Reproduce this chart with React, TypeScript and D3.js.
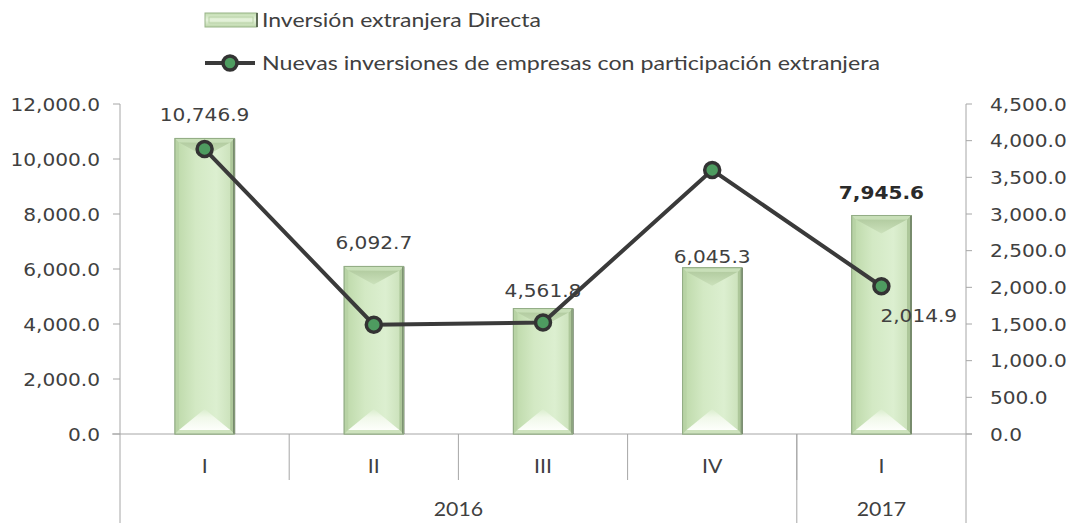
import React from "react";
import * as d3 from "d3";

const quarters = ["I", "II", "III", "IV", "I"];
const years = ["2016", "2017"];
const yearSpans = [4, 1];
const ied = [10746.9, 6092.7, 4561.8, 6045.3, 7945.6];
const nuevas = [3886, 1490, 1520, 3600, 2014.9];
const leftTicks = [0, 2000, 4000, 6000, 8000, 10000, 12000];
const rightTicks = [0, 500, 1000, 1500, 2000, 2500, 3000, 3500, 4000, 4500];
const labelGap = [17, 17, 12, 5, 16];
const legendLabels = [
  "Inversión extranjera Directa",
  "Nuevas inversiones de empresas con participación extranjera",
];

const W = 1072;
const H = 523;
const X0 = 120;
const X1 = 966;
const Y0 = 434;
const YT = 104;
const SX = 1.15;
const NUM = "'DejaVu Sans', Verdana, sans-serif";
const CAL = "Lato, 'Noto Sans', sans-serif";
const TXT = "#404040";
const AX = "#a6a6a6";

const fmt = d3.format(",.1f");

function T(props: any) {
  const { x, y, anchor = "middle", size = 17.5, weight = 400, family = NUM, fill = TXT, children } = props;
  return (
    <text
      transform={`translate(${x},${y}) scale(${SX},1)`}
      textAnchor={anchor}
      fontFamily={family}
      fontSize={size}
      fontWeight={weight}
      fill={fill}
    >
      {children}
    </text>
  );
}

function Bar({ x0, x1, y0, y1 }: any) {
  const b = 4;
  const cx = (x0 + x1) / 2;
  return (
    <g>
      <rect x={x0} y={y0} width={x1 - x0} height={y1 - y0} fill="url(#barFace)" stroke="#8aa67a" strokeWidth={1} />
      <polygon points={`${x0},${y0} ${x0 + b},${y0 + b} ${x0 + b},${y1 - b} ${x0},${y1}`} fill="#b8d3a5" />
      <polygon points={`${x1},${y0} ${x1 - b},${y0 + b} ${x1 - b},${y1 - b} ${x1},${y1}`} fill="#adc79a" />
      <polygon points={`${x0},${y0} ${x1},${y0} ${x1 - b},${y0 + b} ${x0 + b},${y0 + b}`} fill="#c8dfb8" />
      <polygon points={`${x0 + b},${y0 + b} ${x1 - b},${y0 + b} ${cx},${y0 + b + 14}`} fill="url(#barTop)" />
      <polygon points={`${x0 + b},${y1 - b} ${x1 - b},${y1 - b} ${cx},${y1 - b - 21}`} fill="url(#barBottom)" />
      <polygon points={`${x0},${y1} ${x1},${y1} ${x1 - b},${y1 - b} ${x0 + b},${y1 - b}`} fill="#cde2bd" />
      <line x1={x1} x2={x1} y1={y0} y2={y1} stroke="#5d6b55" strokeWidth={2} />
      <rect x={x0} y={y0} width={x1 - x0} height={y1 - y0} fill="none" stroke="#93ad86" strokeWidth={1} />
    </g>
  );
}

export default function App() {
  const x = d3.scaleBand<number>().domain(d3.range(quarters.length)).range([X0, X1]).paddingInner(0).paddingOuter(0);
  const yL = d3.scaleLinear().domain([0, 12000]).range([Y0, YT]);
  const yR = d3.scaleLinear().domain([0, 4500]).range([Y0, YT]);
  const bw = x.bandwidth() * 0.35;
  const cxOf = (i: number) => (x(i) as number) + x.bandwidth() / 2;

  const line = d3
    .line<number>()
    .x((_, i) => cxOf(i))
    .y((d) => yR(d));

  const yearBounds: number[] = [X0];
  let acc = 0;
  yearSpans.forEach((s) => {
    acc += s;
    yearBounds.push(acc >= quarters.length ? X1 : (x(acc) as number));
  });

  return (
    <svg width={W} height={H} style={{ position: "absolute", left: 0, top: 0, display: "block", background: "#fff" }}>
      <defs>
        <linearGradient id="barFace" x1="0" x2="1" y1="0" y2="0">
          <stop offset="0" stopColor="#bcd8a8" />
          <stop offset="0.35" stopColor="#d3e9c4" />
          <stop offset="0.7" stopColor="#dcefd0" />
          <stop offset="1" stopColor="#c8dfb7" />
        </linearGradient>
        <linearGradient id="barTop" x1="0" x2="0" y1="0" y2="1">
          <stop offset="0" stopColor="#b3cca1" />
          <stop offset="1" stopColor="#cbe1bb" />
        </linearGradient>
        <linearGradient id="barBottom" x1="0" x2="0" y1="1" y2="0">
          <stop offset="0" stopColor="#fdfefb" />
          <stop offset="0.6" stopColor="#f0f8e9" />
          <stop offset="1" stopColor="#d9edcc" />
        </linearGradient>
        <linearGradient id="legFace" x1="0" x2="0" y1="0" y2="1">
          <stop offset="0" stopColor="#c2dcb0" />
          <stop offset="0.5" stopColor="#e6f3dc" />
          <stop offset="1" stopColor="#bcd6a9" />
        </linearGradient>
      </defs>

      {/* Legend */}
      <g>
        <rect x={205} y={13} width={52} height={14} fill="url(#legFace)" stroke="#98b488" strokeWidth={1} />
        <rect x={209} y={17} width={44} height={6} fill="none" stroke="#b8d2a6" strokeWidth={1} />
        <line x1={257} x2={257} y1={13} y2={27} stroke="#5d6b55" strokeWidth={2} />
        <text x={262} y={27} fontFamily={CAL} fontSize={19} fill={TXT} textLength={279} lengthAdjust="spacingAndGlyphs">
          {legendLabels[0]}
        </text>
        <line x1={205} x2={255} y1={63} y2={63} stroke="#3a3a3a" strokeWidth={4} />
        <circle cx={230} cy={63} r={7} fill="#4e9c60" stroke="#333" strokeWidth={3.5} />
        <text x={262} y={69.5} fontFamily={CAL} fontSize={19} fill={TXT} textLength={618} lengthAdjust="spacingAndGlyphs">
          {legendLabels[1]}
        </text>
      </g>

      {/* Left axis */}
      <line x1={X0} x2={X0} y1={YT} y2={Y0} stroke={AX} />
      {leftTicks.map((t) => (
        <g key={"l" + t}>
          <line x1={X0 - 7} x2={X0} y1={yL(t)} y2={yL(t)} stroke={AX} />
          <T x={100} y={yL(t) + 6.5} anchor="end">
            {fmt(t)}
          </T>
        </g>
      ))}

      {/* Right axis */}
      <line x1={X1} x2={X1} y1={YT} y2={Y0} stroke={AX} />
      {rightTicks.map((t) => (
        <g key={"r" + t}>
          <line x1={X1} x2={X1 + 6} y1={yR(t)} y2={yR(t)} stroke={AX} />
          <T x={990} y={yR(t) + 6.5} anchor="start">
            {fmt(t)}
          </T>
        </g>
      ))}

      {/* Category axis */}
      <line x1={X0 - 8} x2={X1 + 6} y1={Y0} y2={Y0} stroke={AX} />
      {quarters.map((_, i) =>
        i === 0 ? null : (
          <line key={"d" + i} x1={x(i) as number} x2={x(i) as number} y1={Y0} y2={480} stroke={AX} />
        )
      )}
      {yearBounds.map((bx, i) => (
        <line key={"yb" + i} x1={bx} x2={bx} y1={Y0} y2={H} stroke={AX} />
      ))}
      {quarters.map((q, i) => (
        <T key={"q" + i} x={cxOf(i)} y={473} family={CAL} size={18.5}>
          {q}
        </T>
      ))}
      {years.map((yv, i) => (
        <T key={"y" + i} x={(yearBounds[i] + yearBounds[i + 1]) / 2} y={516} family={CAL} size={18.5}>
          {yv}
        </T>
      ))}

      {/* Bars */}
      {ied.map((v, i) => {
        const cx = cxOf(i);
        return <Bar key={"b" + i} x0={cx - bw / 2} x1={cx + bw / 2} y0={yL(v)} y1={Y0} />;
      })}

      {/* Line */}
      <path d={line(nuevas) as string} fill="none" stroke="#3a3a3a" strokeWidth={4} />
      {nuevas.map((v, i) => (
        <circle key={"m" + i} cx={cxOf(i)} cy={yR(v)} r={7.5} fill="#4e9c60" stroke="#333" strokeWidth={3.5} />
      ))}

      {/* Bar labels */}
      {ied.map((v, i) => (
        <T key={"bl" + i} x={cxOf(i)} y={yL(v) - labelGap[i]} weight={i === ied.length - 1 ? 700 : 400}
          fill={i === ied.length - 1 ? "#2a2a2a" : TXT}>
          {fmt(v)}
        </T>
      ))}

      {/* Line label (last point) */}
      <T x={cxOf(nuevas.length - 1) - 1} y={yR(nuevas[nuevas.length - 1]) + 36} anchor="start">
        {fmt(nuevas[nuevas.length - 1])}
      </T>
    </svg>
  );
}
